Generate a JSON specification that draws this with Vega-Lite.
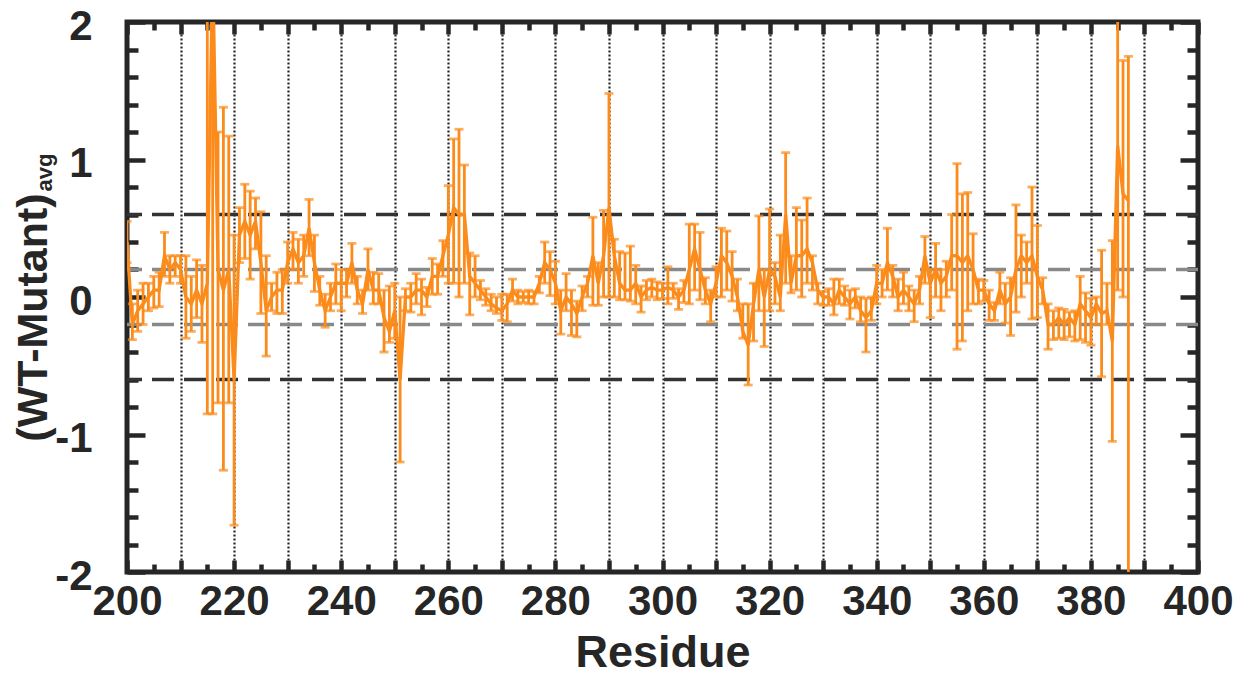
{
  "$schema": "https://vega.github.io/schema/vega-lite/v6.json",
  "autosize": {"type": "none"},
  "width": 1071,
  "height": 550,
  "padding": {"left": 127, "top": 22, "right": 44, "bottom": 101},
  "background": "white",
  "config": {
    "view": {"stroke": "#262626", "strokeWidth": 5},
    "axis": {
      "labelFont": "Liberation Sans", "labelFontWeight": "bold", "labelFontSize": 42, "labelColor": "#262626",
      "titleFont": "Liberation Sans", "titleFontWeight": "bold", "titleColor": "#262626",
      "ticks": true, "tickColor": "#262626", "tickWidth": 4.5, "domain": false, "grid": false,
      "labelOverlap": false, "labelFlush": false, "zindex": 1
    }
  },
  "datasets": {
    "ref": [
      {"h": 0.6, "kind": "outer"}, {"h": -0.6, "kind": "outer"},
      {"h": 0.2, "kind": "inner"}, {"h": -0.2, "kind": "inner"}
    ],
    "res": [
      {"r":200,"v":0.4,"lo":0.25,"hi":0.55},
      {"r":201,"v":-0.2,"lo":-0.31,"hi":-0.05},
      {"r":202,"v":-0.1,"lo":-0.25,"hi":0.05},
      {"r":203,"v":-0.05,"lo":-0.2,"hi":0.1},
      {"r":204,"v":0.0,"lo":-0.1,"hi":0.1},
      {"r":205,"v":0.05,"lo":-0.08,"hi":0.15},
      {"r":206,"v":0.05,"lo":-0.07,"hi":0.18},
      {"r":207,"v":0.3,"lo":0.15,"hi":0.47},
      {"r":208,"v":0.2,"lo":0.1,"hi":0.3},
      {"r":209,"v":0.25,"lo":0.15,"hi":0.3},
      {"r":210,"v":0.2,"lo":0.1,"hi":0.3},
      {"r":211,"v":0.0,"lo":-0.3,"hi":0.3},
      {"r":212,"v":-0.05,"lo":-0.25,"hi":0.15},
      {"r":213,"v":0.05,"lo":-0.15,"hi":0.27},
      {"r":214,"v":-0.05,"lo":-0.33,"hi":0.23},
      {"r":215,"v":0.1,"lo":-0.85,"hi":2.3},
      {"r":216,"v":2.4,"lo":-0.85,"hi":3.0},
      {"r":217,"v":0.2,"lo":-0.77,"hi":1.2},
      {"r":218,"v":0.05,"lo":-1.26,"hi":1.38},
      {"r":219,"v":0.2,"lo":-0.77,"hi":1.17},
      {"r":220,"v":-0.6,"lo":-1.66,"hi":0.45},
      {"r":221,"v":0.45,"lo":0.25,"hi":0.65},
      {"r":222,"v":0.55,"lo":0.28,"hi":0.82},
      {"r":223,"v":0.45,"lo":0.13,"hi":0.77},
      {"r":224,"v":0.55,"lo":0.35,"hi":0.72},
      {"r":225,"v":0.25,"lo":-0.12,"hi":0.62},
      {"r":226,"v":-0.1,"lo":-0.43,"hi":0.3},
      {"r":227,"v":0.0,"lo":-0.1,"hi":0.1},
      {"r":228,"v":0.05,"lo":-0.12,"hi":0.18},
      {"r":229,"v":0.05,"lo":-0.12,"hi":0.2},
      {"r":230,"v":0.25,"lo":0.1,"hi":0.4},
      {"r":231,"v":0.35,"lo":0.2,"hi":0.47},
      {"r":232,"v":0.25,"lo":0.1,"hi":0.42},
      {"r":233,"v":0.3,"lo":0.15,"hi":0.45},
      {"r":234,"v":0.5,"lo":0.3,"hi":0.71},
      {"r":235,"v":0.25,"lo":0.04,"hi":0.45},
      {"r":236,"v":0.05,"lo":-0.06,"hi":0.15},
      {"r":237,"v":-0.1,"lo":-0.22,"hi":0.02},
      {"r":238,"v":0.0,"lo":-0.1,"hi":0.1},
      {"r":239,"v":0.1,"lo":-0.05,"hi":0.24},
      {"r":240,"v":0.1,"lo":-0.1,"hi":0.2},
      {"r":241,"v":0.1,"lo":0.0,"hi":0.2},
      {"r":242,"v":0.25,"lo":0.1,"hi":0.39},
      {"r":243,"v":0.05,"lo":-0.05,"hi":0.15},
      {"r":244,"v":-0.05,"lo":-0.12,"hi":0.05},
      {"r":245,"v":0.2,"lo":0.05,"hi":0.35},
      {"r":246,"v":0.05,"lo":-0.05,"hi":0.18},
      {"r":247,"v":0.05,"lo":-0.05,"hi":0.17},
      {"r":248,"v":-0.15,"lo":-0.4,"hi":0.05},
      {"r":249,"v":-0.25,"lo":-0.33,"hi":0.08},
      {"r":250,"v":-0.1,"lo":-0.3,"hi":0.1},
      {"r":251,"v":-0.6,"lo":-1.2,"hi":0.0},
      {"r":252,"v":0.0,"lo":-0.1,"hi":0.06},
      {"r":253,"v":0.0,"lo":-0.11,"hi":0.1},
      {"r":254,"v":0.05,"lo":-0.05,"hi":0.17},
      {"r":255,"v":0.05,"lo":-0.13,"hi":0.13},
      {"r":256,"v":0.0,"lo":-0.07,"hi":0.07},
      {"r":257,"v":0.15,"lo":0.02,"hi":0.28},
      {"r":258,"v":0.15,"lo":0.02,"hi":0.24},
      {"r":259,"v":0.3,"lo":0.15,"hi":0.41},
      {"r":260,"v":0.45,"lo":0.1,"hi":0.81},
      {"r":261,"v":0.65,"lo":0.1,"hi":1.15},
      {"r":262,"v":0.6,"lo":0.0,"hi":1.22},
      {"r":263,"v":0.6,"lo":0.1,"hi":0.96},
      {"r":264,"v":0.15,"lo":-0.13,"hi":0.32},
      {"r":265,"v":0.1,"lo":0.0,"hi":0.3},
      {"r":266,"v":0.05,"lo":-0.02,"hi":0.12},
      {"r":267,"v":0.0,"lo":-0.06,"hi":0.06},
      {"r":268,"v":-0.05,"lo":-0.1,"hi":0.02},
      {"r":269,"v":-0.08,"lo":-0.12,"hi":0.0},
      {"r":270,"v":-0.1,"lo":-0.17,"hi":0.02},
      {"r":271,"v":-0.05,"lo":-0.18,"hi":0.02},
      {"r":272,"v":0.05,"lo":-0.03,"hi":0.13},
      {"r":273,"v":0.0,"lo":-0.05,"hi":0.05},
      {"r":274,"v":0.0,"lo":-0.04,"hi":0.04},
      {"r":275,"v":0.0,"lo":-0.05,"hi":0.05},
      {"r":276,"v":0.0,"lo":-0.05,"hi":0.04},
      {"r":277,"v":0.1,"lo":0.03,"hi":0.15},
      {"r":278,"v":0.25,"lo":0.1,"hi":0.4},
      {"r":279,"v":0.2,"lo":0.01,"hi":0.33},
      {"r":280,"v":0.1,"lo":-0.05,"hi":0.26},
      {"r":281,"v":-0.1,"lo":-0.27,"hi":0.05},
      {"r":282,"v":0.0,"lo":-0.1,"hi":0.17},
      {"r":283,"v":-0.05,"lo":-0.28,"hi":0.05},
      {"r":284,"v":-0.12,"lo":-0.29,"hi":-0.03},
      {"r":285,"v":0.0,"lo":-0.1,"hi":0.08},
      {"r":286,"v":0.1,"lo":0.0,"hi":0.15},
      {"r":287,"v":0.3,"lo":-0.06,"hi":0.58},
      {"r":288,"v":0.1,"lo":-0.06,"hi":0.25},
      {"r":289,"v":0.3,"lo":0.0,"hi":0.63},
      {"r":290,"v":0.65,"lo":0.0,"hi":1.48},
      {"r":291,"v":0.3,"lo":0.0,"hi":0.42},
      {"r":292,"v":0.1,"lo":-0.02,"hi":0.33},
      {"r":293,"v":0.05,"lo":-0.02,"hi":0.32},
      {"r":294,"v":0.05,"lo":-0.03,"hi":0.37},
      {"r":295,"v":0.1,"lo":-0.05,"hi":0.23},
      {"r":296,"v":0.0,"lo":-0.11,"hi":0.08},
      {"r":297,"v":0.05,"lo":-0.02,"hi":0.12},
      {"r":298,"v":0.07,"lo":0.0,"hi":0.13},
      {"r":299,"v":0.05,"lo":-0.02,"hi":0.11},
      {"r":300,"v":0.05,"lo":-0.01,"hi":0.1},
      {"r":301,"v":0.07,"lo":-0.05,"hi":0.22},
      {"r":302,"v":0.05,"lo":-0.01,"hi":0.1},
      {"r":303,"v":0.0,"lo":-0.09,"hi":0.06},
      {"r":304,"v":0.05,"lo":-0.04,"hi":0.12},
      {"r":305,"v":0.2,"lo":-0.05,"hi":0.53},
      {"r":306,"v":0.35,"lo":0.05,"hi":0.53},
      {"r":307,"v":0.2,"lo":-0.02,"hi":0.47},
      {"r":308,"v":0.05,"lo":-0.05,"hi":0.14},
      {"r":309,"v":-0.05,"lo":-0.18,"hi":0.05},
      {"r":310,"v":0.1,"lo":0.0,"hi":0.22},
      {"r":311,"v":0.3,"lo":0.0,"hi":0.5},
      {"r":312,"v":0.25,"lo":0.05,"hi":0.48},
      {"r":313,"v":0.15,"lo":-0.03,"hi":0.33},
      {"r":314,"v":0.0,"lo":-0.1,"hi":0.13},
      {"r":315,"v":-0.25,"lo":-0.3,"hi":-0.05},
      {"r":316,"v":-0.35,"lo":-0.64,"hi":-0.05},
      {"r":317,"v":-0.05,"lo":-0.32,"hi":0.1},
      {"r":318,"v":0.2,"lo":-0.1,"hi":0.59},
      {"r":319,"v":0.0,"lo":-0.36,"hi":0.2},
      {"r":320,"v":0.2,"lo":-0.1,"hi":0.64},
      {"r":321,"v":0.15,"lo":-0.05,"hi":0.25},
      {"r":322,"v":0.0,"lo":-0.1,"hi":0.45},
      {"r":323,"v":0.6,"lo":0.1,"hi":1.05},
      {"r":324,"v":0.1,"lo":0.03,"hi":0.3},
      {"r":325,"v":0.3,"lo":0.05,"hi":0.65},
      {"r":326,"v":0.3,"lo":0.0,"hi":0.56},
      {"r":327,"v":0.35,"lo":0.1,"hi":0.72},
      {"r":328,"v":0.25,"lo":0.05,"hi":0.3},
      {"r":329,"v":0.05,"lo":-0.05,"hi":0.1},
      {"r":330,"v":0.0,"lo":-0.06,"hi":0.04},
      {"r":331,"v":0.0,"lo":-0.06,"hi":0.06},
      {"r":332,"v":-0.05,"lo":-0.13,"hi":0.13},
      {"r":333,"v":0.05,"lo":-0.05,"hi":0.13},
      {"r":334,"v":0.0,"lo":-0.06,"hi":0.08},
      {"r":335,"v":-0.05,"lo":-0.16,"hi":0.05},
      {"r":336,"v":0.0,"lo":-0.08,"hi":0.06},
      {"r":337,"v":-0.1,"lo":-0.18,"hi":0.0},
      {"r":338,"v":-0.15,"lo":-0.4,"hi":-0.01},
      {"r":339,"v":-0.1,"lo":-0.17,"hi":0.0},
      {"r":340,"v":0.1,"lo":-0.05,"hi":0.23},
      {"r":341,"v":0.1,"lo":0.0,"hi":0.2},
      {"r":342,"v":0.25,"lo":0.05,"hi":0.5},
      {"r":343,"v":0.15,"lo":0.0,"hi":0.23},
      {"r":344,"v":0.0,"lo":-0.1,"hi":0.13},
      {"r":345,"v":0.05,"lo":-0.05,"hi":0.18},
      {"r":346,"v":0.0,"lo":-0.1,"hi":0.08},
      {"r":347,"v":-0.05,"lo":-0.18,"hi":0.05},
      {"r":348,"v":0.05,"lo":-0.05,"hi":0.15},
      {"r":349,"v":0.3,"lo":0.1,"hi":0.44},
      {"r":350,"v":0.1,"lo":-0.15,"hi":0.2},
      {"r":351,"v":0.2,"lo":0.0,"hi":0.39},
      {"r":352,"v":0.1,"lo":-0.1,"hi":0.2},
      {"r":353,"v":0.15,"lo":0.0,"hi":0.26},
      {"r":354,"v":0.3,"lo":0.05,"hi":0.6},
      {"r":355,"v":0.3,"lo":-0.38,"hi":0.97},
      {"r":356,"v":0.25,"lo":-0.32,"hi":0.75},
      {"r":357,"v":0.3,"lo":-0.1,"hi":0.76},
      {"r":358,"v":0.2,"lo":-0.05,"hi":0.46},
      {"r":359,"v":0.05,"lo":-0.05,"hi":0.13},
      {"r":360,"v":0.05,"lo":-0.03,"hi":0.12},
      {"r":361,"v":-0.05,"lo":-0.17,"hi":0.05},
      {"r":362,"v":-0.1,"lo":-0.17,"hi":-0.04},
      {"r":363,"v":0.05,"lo":-0.05,"hi":0.18},
      {"r":364,"v":-0.05,"lo":-0.19,"hi":0.1},
      {"r":365,"v":0.0,"lo":-0.28,"hi":0.14},
      {"r":366,"v":0.2,"lo":-0.11,"hi":0.67},
      {"r":367,"v":0.3,"lo":0.0,"hi":0.45},
      {"r":368,"v":0.25,"lo":0.1,"hi":0.4},
      {"r":369,"v":0.3,"lo":-0.16,"hi":0.8},
      {"r":370,"v":0.15,"lo":-0.15,"hi":0.52},
      {"r":371,"v":0.05,"lo":-0.05,"hi":0.14},
      {"r":372,"v":-0.2,"lo":-0.38,"hi":-0.05},
      {"r":373,"v":-0.2,"lo":-0.31,"hi":-0.1},
      {"r":374,"v":-0.15,"lo":-0.3,"hi":-0.08},
      {"r":375,"v":-0.2,"lo":-0.31,"hi":-0.09},
      {"r":376,"v":-0.15,"lo":-0.29,"hi":-0.11},
      {"r":377,"v":-0.2,"lo":-0.32,"hi":-0.1},
      {"r":378,"v":-0.05,"lo":-0.31,"hi":0.15},
      {"r":379,"v":-0.1,"lo":-0.33,"hi":0.03},
      {"r":380,"v":-0.15,"lo":-0.35,"hi":-0.01},
      {"r":381,"v":-0.05,"lo":-0.2,"hi":0.0},
      {"r":382,"v":-0.12,"lo":-0.58,"hi":0.34},
      {"r":383,"v":-0.1,"lo":-0.2,"hi":0.1},
      {"r":384,"v":-0.32,"lo":-1.05,"hi":0.41},
      {"r":385,"v":1.1,"lo":0.05,"hi":2.3},
      {"r":386,"v":0.75,"lo":0.0,"hi":1.72},
      {"r":387,"v":0.7,"lo":-2.6,"hi":1.75}
    ]
  },
  "resolve": {"axis": {"x": "independent", "y": "independent"}},
  "layer": [
    {
      "data": {"name": "ref"},
      "mark": {"type": "rule", "strokeWidth": 3.5, "strokeDash": [22, 10]},
      "encoding": {
        "y": {"field": "h", "type": "quantitative",
          "scale": {"domain": [-2, 2], "nice": false, "zero": false},
          "axis": {"orient": "left", "values": [-2, -1, 0, 1, 2], "tickSize": -18,
            "labelPadding": 53, "labelOffset": 4,
            "labelExpr": "replace(datum.label, '\u2212', '-')",
            "title": "(WT-Mutant)", "titleFontSize": 43, "titleAngle": -90, "titleAlign": "center",
            "titleBaseline": "alphabetic", "titleX": -81, "titleY": 295}},
        "color": {"field": "kind", "type": "nominal",
          "scale": {"domain": ["outer", "inner"], "range": ["#333333", "#878a89"]}, "legend": null}
      }
    },
    {
      "data": {"name": "res"},
      "mark": {"type": "rule", "color": "#fb8c1c", "strokeWidth": 2.8, "clip": true},
      "encoding": {
        "x": {"field": "r", "type": "quantitative",
          "scale": {"domain": [200, 400], "nice": false, "zero": false},
          "axis": {"orient": "bottom",
            "values": [200,210,220,230,240,250,260,270,280,290,300,310,320,330,340,350,360,370,380,390,400],
            "tickSize": -12, "labelPadding": 21,
            "labelExpr": "datum.value % 20 == 0 ? datum.label : ''",
            "grid": true, "gridDash": [2, 2], "gridColor": "#262626", "gridWidth": 2.2,
            "title": "Residue", "titleFontSize": 45, "titlePadding": 8}},
        "y": {"field": "lo", "type": "quantitative",
          "scale": {"domain": [-2, 2], "nice": false, "zero": false},
          "axis": {"orient": "right", "values": [-2, -1, 0, 1, 2], "tickSize": -18, "labels": false, "title": null}},
        "y2": {"field": "hi"}
      }
    },
    {
      "data": {"name": "res"},
      "mark": {"type": "tick", "orient": "horizontal", "size": 9, "thickness": 2.8, "color": "#fb8c1c", "clip": true},
      "encoding": {
        "x": {"field": "r", "type": "quantitative",
          "scale": {"domain": [200, 400], "nice": false, "zero": false},
          "axis": {"orient": "top",
            "values": [200,210,220,230,240,250,260,270,280,290,300,310,320,330,340,350,360,370,380,390,400],
            "tickSize": -12, "labels": false, "title": null}},
        "y": {"field": "lo", "type": "quantitative",
          "scale": {"domain": [-2, 2], "nice": false, "zero": false},
          "axis": {"orient": "left",
            "values": [-1.8,-1.6,-1.4,-1.2,-0.8,-0.6,-0.4,-0.2,0.2,0.4,0.6,0.8,1.2,1.4,1.6,1.8],
            "tickSize": -11, "labels": false,
            "title": "avg", "titleFontSize": 22, "titleAngle": -90, "titleAlign": "center",
            "titleBaseline": "alphabetic", "titleX": -76, "titleY": 150}}
      }
    },
    {
      "data": {"name": "res"},
      "mark": {"type": "tick", "orient": "horizontal", "size": 9, "thickness": 2.8, "color": "#fb8c1c", "clip": true},
      "encoding": {
        "x": {"field": "r", "type": "quantitative",
          "scale": {"domain": [200, 400], "nice": false, "zero": false},
          "axis": {"orient": "bottom",
            "values": [205,215,225,235,245,255,265,275,285,295,305,315,325,335,345,355,365,375,385,395],
            "tickSize": -8, "labels": false, "title": null}},
        "y": {"field": "hi", "type": "quantitative",
          "scale": {"domain": [-2, 2], "nice": false, "zero": false},
          "axis": {"orient": "right",
            "values": [-1.8,-1.6,-1.4,-1.2,-0.8,-0.6,-0.4,-0.2,0.2,0.4,0.6,0.8,1.2,1.4,1.6,1.8],
            "tickSize": -11, "labels": false, "title": null}}
      }
    },
    {
      "data": {"name": "res"},
      "mark": {"type": "line", "color": "#fb8c1c", "strokeWidth": 3.3, "clip": true},
      "encoding": {
        "x": {"field": "r", "type": "quantitative",
          "scale": {"domain": [200, 400], "nice": false, "zero": false},
          "axis": {"orient": "top",
            "values": [205,215,225,235,245,255,265,275,285,295,305,315,325,335,345,355,365,375,385,395],
            "tickSize": -8, "labels": false, "title": null}},
        "y": {"field": "v", "type": "quantitative",
          "scale": {"domain": [-2, 2], "nice": false, "zero": false}, "axis": null}
      }
    }
  ]
}
